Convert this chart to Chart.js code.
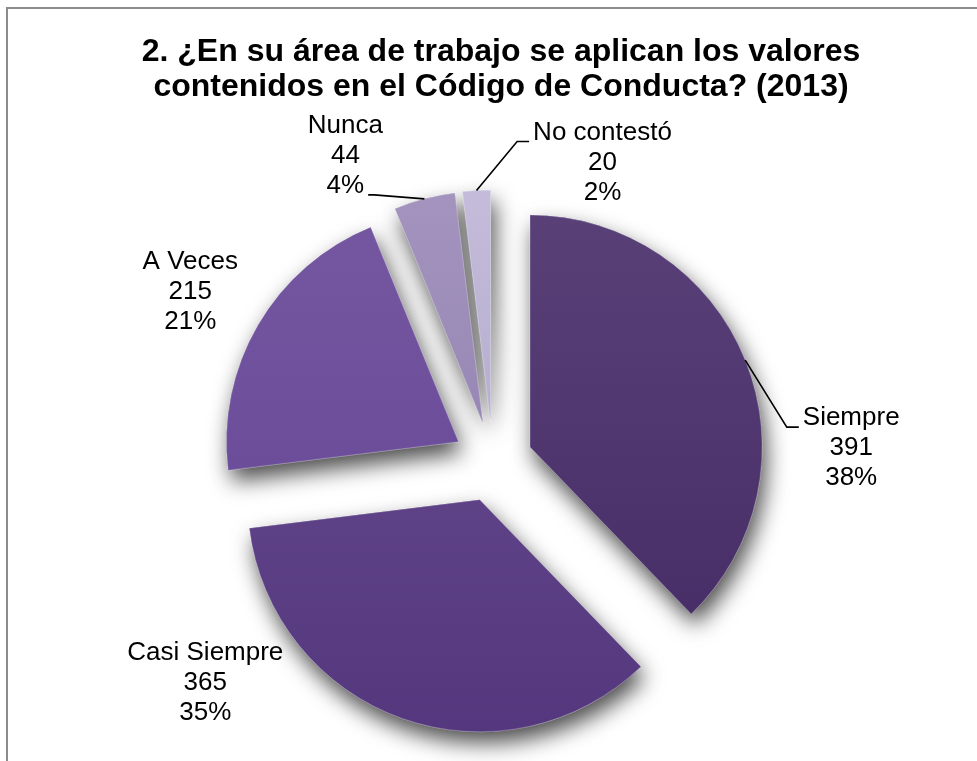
<!DOCTYPE html>
<html lang="es">
<head>
  <meta charset="UTF-8">
  <title>Código de Conducta (2013)</title>
  <script src="https://cdn.jsdelivr.net/npm/chart.js@4.4.0/dist/chart.umd.min.js"></script>
  <style>
    html, body { margin: 0; padding: 0; background: #fff; overflow: hidden; }
    #frame { position: absolute; left: 6px; top: 7px; width: 1200px; height: 1000px;
             border-left: 2px solid #8c8c8c; border-top: 2px solid #8c8c8c; }
    #wrap { position: absolute; left: 0; top: 0; width: 977px; height: 816px; }
  </style>
</head>
<body>
<div id="frame"></div>
<div id="wrap"><canvas id="pie-chart"></canvas></div>

<script>
  // datos
  const categories = ['Siempre', 'Casi Siempre', 'A Veces', 'Nunca', 'No contestó'];
  const answers = [391, 365, 215, 44, 20];
  const titleLines = [
    '2. ¿En su área de trabajo se aplican los valores',
    'contenidos en el Código de Conducta? (2013)'
  ];

  // estilo
  const topColors = ['#5a4279', '#6a4e90', '#7658a2', '#a596c0', '#c6bedb'];
  const bottomColors = ['#442a64', '#52357c', '#634493', '#8b79a9', '#a89fc3'];
  const EXPLODE = 40;
  const LINE_H = 30;
  const TITLE_SHIFT = 8; // el título va centrado en el marco, no en el pastel
  // desplazamiento de cada etiqueta respecto al borde del sector
  const labelShift = [[106, 88], [-197, -36], [-68, -33], [-79, -43], [126, -28]];
  const leaders = [
    { line: 0, side: 'left', knee: 12 },
    null,
    null,
    { line: 2, side: 'right', knee: 6 },
    { line: 0, side: 'left', knee: 12 }
  ];

  function sliceFill(context) {
    const i = context.dataIndex;
    const chart = context.chart;
    const area = chart.chartArea;
    if (!area) return bottomColors[i];
    const cy = (area.top + area.bottom) / 2;
    const g = chart.ctx.createLinearGradient(0, cy - 272, 0, cy + 272);
    g.addColorStop(0, topColors[i]);
    g.addColorStop(1, bottomColors[i]);
    return g;
  }

  const titleOffset = {
    id: 'titleOffset',
    beforeDraw(chart) {
      chart.ctx.save();
      chart.ctx.translate(TITLE_SHIFT, 0);
    },
    beforeDatasetsDraw(chart) {
      chart.ctx.restore();
    }
  };

  // dibuja los sectores separados con sombra
  const explodedPie = {
    id: 'explodedPie',
    beforeDatasetsDraw(chart) {
      const ctx = chart.ctx;
      const arcs = chart.getDatasetMeta(0).data;
      const pass = (shadow) => {
        arcs.forEach(arc => {
          const mid = (arc.startAngle + arc.endAngle) / 2;
          ctx.save();
          if (shadow) {
            ctx.shadowColor = 'rgba(0,0,0,0.7)';
            ctx.shadowBlur = 22;
            ctx.shadowOffsetX = 4;
            ctx.shadowOffsetY = 11;
          }
          ctx.translate(Math.cos(mid) * EXPLODE, Math.sin(mid) * EXPLODE);
          arc.draw(ctx);
          ctx.restore();
        });
      };
      pass(true);
      pass(false);
      return false;
    }
  };

  const sliceLabels = {
    id: 'sliceLabels',
    afterDraw(chart) {
      const ctx = chart.ctx;
      const arcs = chart.getDatasetMeta(0).data;
      const total = answers.reduce((a, b) => a + b, 0);
      ctx.save();
      ctx.font = '26px "Liberation Sans", Arial, sans-serif';
      ctx.fillStyle = '#000';
      ctx.strokeStyle = '#000';
      ctx.lineWidth = 1.6;
      ctx.textAlign = 'center';
      ctx.textBaseline = 'middle';
      arcs.forEach((arc, i) => {
        const mid = (arc.startAngle + arc.endAngle) / 2;
        const r = arc.outerRadius + EXPLODE;
        const ox = arc.x + Math.cos(mid) * r;
        const oy = arc.y + Math.sin(mid) * r;
        const cx = ox + labelShift[i][0];
        const cy = oy + labelShift[i][1];
        const lines = [categories[i], String(answers[i]), Math.round(answers[i] / total * 100) + '%'];
        lines.forEach((t, k) => ctx.fillText(t, cx, cy + (k - 1) * LINE_H));
        const ld = leaders[i];
        if (ld) {
          const w = ctx.measureText(lines[ld.line]).width;
          const dir = ld.side === 'left' ? -1 : 1;
          const ex = cx + dir * (w / 2 + 4);
          const ey = cy + (ld.line - 1) * LINE_H + 9;
          const kx = ex + dir * ld.knee;
          ctx.beginPath();
          ctx.moveTo(ox, oy);
          ctx.lineTo(kx, ey);
          ctx.lineTo(ex, ey);
          ctx.stroke();
        }
      });
      ctx.restore();
    }
  };

  const ctx = document.getElementById('pie-chart').getContext('2d');
  const pieChart = new Chart(ctx, {
    type: 'pie',
    data: {
      labels: categories,
      datasets: [{
        data: answers,
        backgroundColor: sliceFill,
        borderColor: 'rgba(255,255,255,0.22)',
        borderWidth: 1,
        radius: 232,
        offset: 0,
        hoverOffset: 0
      }]
    },
    options: {
      responsive: true,
      maintainAspectRatio: false,
      animation: false,
      layout: { padding: { left: 9, right: 0, top: 0, bottom: 0 } },
      plugins: {
        legend: { display: false },
        tooltip: { enabled: false },
        title: {
          display: true,
          text: titleLines,
          color: '#000',
          font: { family: '"Liberation Sans", Arial, sans-serif', size: 32, weight: 'bold', lineHeight: 1.08 },
          padding: { top: 35, bottom: 4 }
        }
      }
    },
    plugins: [titleOffset, explodedPie, sliceLabels]
  });
</script>
</body>
</html>
